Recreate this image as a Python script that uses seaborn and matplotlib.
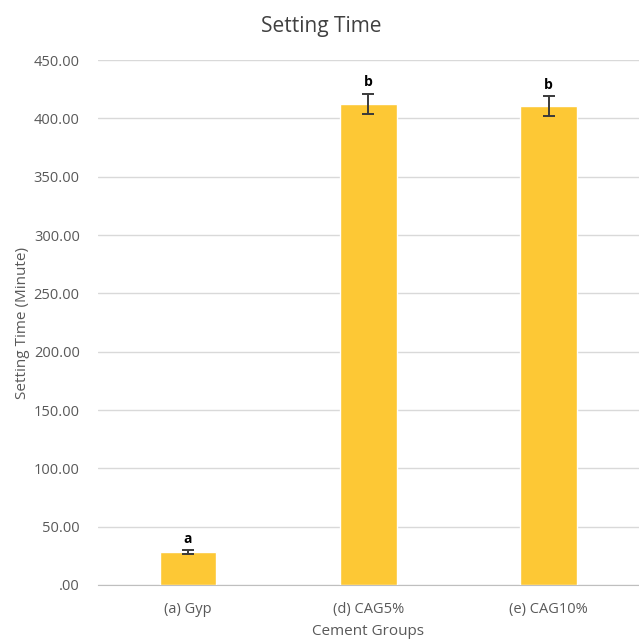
import matplotlib
matplotlib.use("Agg")
import matplotlib.pyplot as plt
import seaborn as sns
import pandas as pd

# data
groups = ["(a) Gyp", "(d) CAG5%", "(e) CAG10%"]
setting_time = [28.0, 412.5, 410.5]
errors = [1.8, 8.5, 8.5]
letters = ["a", "b", "b"]
yticks = [0, 50, 100, 150, 200, 250, 300, 350, 400, 450]

df = pd.DataFrame({"group": groups, "time": setting_time})

sns.set_style("white")
plt.rcParams["font.family"] = ["Open Sans", "DejaVu Sans"]

fig = plt.figure(figsize=(6.39, 6.40), dpi=100)
ax = fig.add_axes([0.153, 0.086, 0.847, 0.820])

sns.barplot(data=df, x="group", y="time", color="#FDC835", width=0.315,
            saturation=1, ax=ax, zorder=3)
ax.errorbar(range(len(groups)), setting_time, yerr=errors, fmt="none",
            ecolor="#3a3a3a", elinewidth=1.4, capsize=4, capthick=1.4, zorder=4)
for i, (v, e, l) in enumerate(zip(setting_time, errors, letters)):
    ax.text(i, v + e + 4, l, ha="center", va="bottom", fontsize=10,
            fontweight="bold", color="black")

ax.set_ylim(0, 450)
ax.set_yticks(yticks)
ax.set_yticklabels([".00" if t == 0 else f"{t:.2f}" for t in yticks])
ax.set_xlim(-0.5, 2.5)
ax.yaxis.grid(True, color="#D9D9D9", linewidth=1)
ax.set_axisbelow(True)
for s in ["top", "right", "left"]:
    ax.spines[s].set_visible(False)
ax.spines["bottom"].set_color("#BFBFBF")
ax.tick_params(axis="y", length=0, labelsize=10.5, colors="#595959", pad=13)
ax.tick_params(axis="x", length=0, labelsize=10.5, colors="#595959", pad=12)

ax.set_xlabel("Cement Groups", fontsize=11, color="#595959", labelpad=5)
ax.set_ylabel("Setting Time (Minute)", fontsize=11, color="#595959", labelpad=3)
fig.text(0.503, 0.958, "Setting Time", ha="center", va="center",
         fontsize=15, color="#404040")

fig.savefig("out.png", dpi=100)
